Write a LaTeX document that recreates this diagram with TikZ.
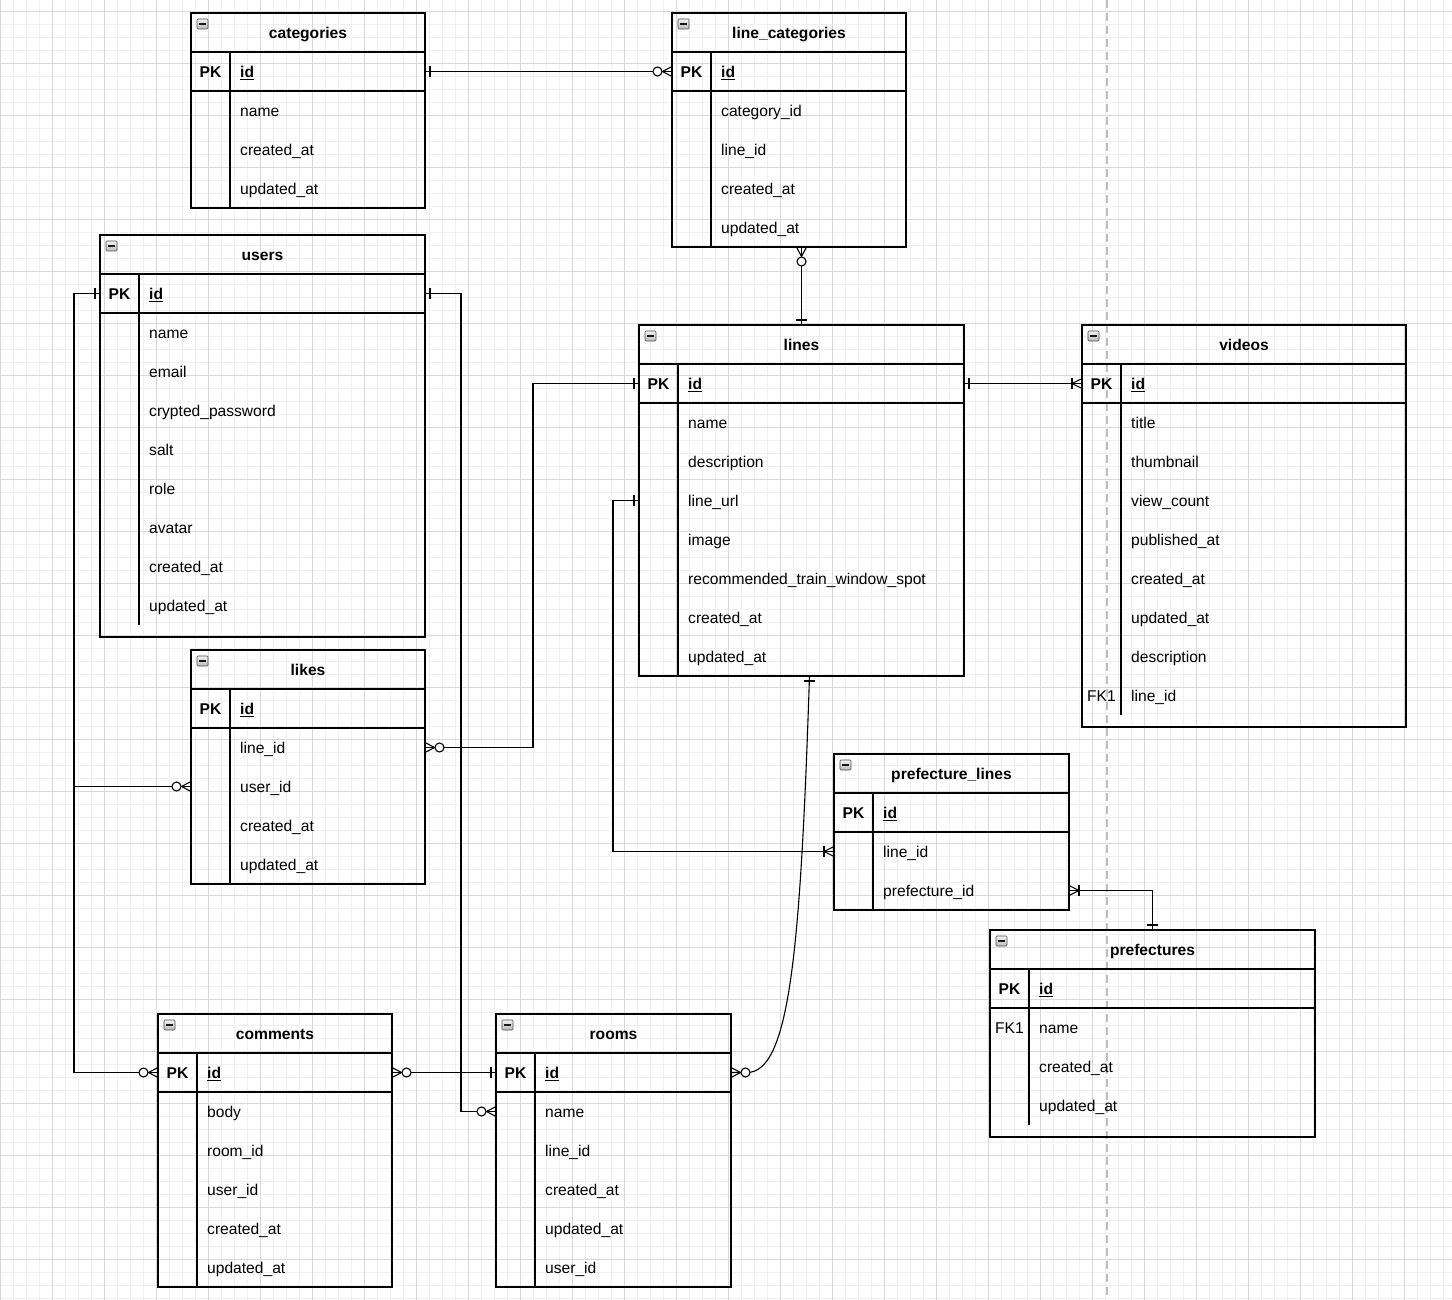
\documentclass[tikz,border=0pt]{standalone}
\usepackage{fontspec}
\setmainfont{Liberation Sans}
\usepackage{tikz}
\usetikzlibrary{calc}
\definecolor{gridMinor}{RGB}{240,240,240}
\definecolor{gridMajor}{RGB}{216,216,216}
\definecolor{pageBreak}{RGB}{190,190,190}

\tikzset{
  tbl/.style={draw=black, line width=1.1pt, inner sep=0pt, outer sep=0pt},
  rowbox/.style={inner sep=0pt, outer sep=0pt, minimum height=39pt},
  ttl/.style={font=\fontsize{15.6}{18}\selectfont\bfseries, inner sep=0pt, text height=13pt, text depth=1pt},
  fld/.style={font=\fontsize{15.6}{18}\selectfont, inner sep=0pt, text height=13pt, text depth=1pt},
  rel/.style={draw=black, line width=1.1pt},
  pics/oneMark/.style={code={\draw[rel] (5,-5.5) -- (5,5.5);}},
  pics/zeroMany/.style={code={
    \draw[rel] (0,-5) -- (9.5,0) -- (0,5);
    \draw[rel, fill=white] (14.5,0) circle[radius=4.5pt];}},
  pics/oneMany/.style={code={
    \draw[rel] (0,-5) -- (10,0) -- (0,5);
    \draw[rel] (10,-5.5) -- (10,5.5);}},
}

% #1 name, #2 left, #3 top, #4 width, #5 rows under PK, #6 extra space, #7 title, #8 key/field list
\newcommand{\ertable}[8]{%
  \pgfmathsetmacro\tblh{78+39*#5+#6}%
  \pgfmathsetmacro\divh{39+39*#5}%
  \node[tbl, anchor=north west, minimum width=#4pt, minimum height=\tblh pt] (#1) at (#2,#3) {};
  \draw[tbl] ($(#1.north west)+(0,39)$) -- ++(#4,0);
  \draw[tbl] ($(#1.north west)+(0,78)$) -- ++(#4,0);
  \draw[tbl] ($(#1.north west)+(39,39)$) -- ++(0,\divh);
  \shadedraw[top color=gray!10, bottom color=gray!55, draw=gray!60!black, line width=0.6pt, rounded corners=1pt]
    ($(#1.north west)+(6,6)$) rectangle ++(11,10);
  \draw[gray!20!black, line width=1.2pt] ($(#1.north west)+(8,11)$) -- ++(7,0);
  \node[ttl] at ($(#1.north)+(0,19.5)$) {#7};
  \foreach \k/\f [count=\i from 0] in {#8} {
    \node[rowbox, anchor=north west, minimum width=#4pt] (#1-\i) at ($(#1.north west)+(0,{39+39*\i})$) {};
    \node[fld] at ($(#1-\i.west)+(19.5,0)$) {\k};
    \node[fld, anchor=west] at ($(#1-\i.west)+(49,0)$) {\f};
  }%
}

\begin{document}
\begin{tikzpicture}[x=1pt, y=-1pt]
  \useasboundingbox (0,0) rectangle (1452,1300);
  \fill[white] (0,0) rectangle (1452,1300);
  % grid
  \foreach \gx in {0,13,...,1452} \draw[gridMinor, line width=0.8pt] (\gx,0) -- (\gx,1300);
  \foreach \gy in {-2,11,...,1300} \draw[gridMinor, line width=0.8pt] (0,\gy) -- (1452,\gy);
  \foreach \gx in {0,52,...,1452} \draw[gridMajor, line width=0.8pt] (\gx,0) -- (\gx,1300);
  \foreach \gy in {11,63,...,1300} \draw[gridMajor, line width=0.8pt] (0,\gy) -- (1452,\gy);
  % page break
  \draw[pageBreak, line width=1.3pt, dash pattern=on 8pt off 5pt] (1107,0) -- (1107,1300);

  % tables
  \ertable{categories}{191}{13}{234}{3}{0}{categories}
    {\textbf{PK}/\underline{\textbf{id}}, /name, /created\_at, /updated\_at}
  \ertable{lineCategories}{672}{13}{234}{4}{0}{line\_categories}
    {\textbf{PK}/\underline{\textbf{id}}, /category\_id, /line\_id, /created\_at, /updated\_at}
  \ertable{users}{100}{235}{325}{8}{12}{users}
    {\textbf{PK}/\underline{\textbf{id}}, /name, /email, /crypted\_password, /salt, /role, /avatar, /created\_at, /updated\_at}
  \ertable{likes}{191}{650}{234}{4}{0}{likes}
    {\textbf{PK}/\underline{\textbf{id}}, /line\_id, /user\_id, /created\_at, /updated\_at}
  \ertable{lines}{639}{325}{325}{7}{0}{lines}
    {\textbf{PK}/\underline{\textbf{id}}, /name, /description, /line\_url, /image, /recommended\_train\_window\_spot, /created\_at, /updated\_at}
  \ertable{videos}{1082}{325}{324}{8}{12}{videos}
    {\textbf{PK}/\underline{\textbf{id}}, /title, /thumbnail, /view\_count, /published\_at, /created\_at, /updated\_at, /description, FK1/line\_id}
  \ertable{prefectureLines}{834}{754}{235}{2}{0}{prefecture\_lines}
    {\textbf{PK}/\underline{\textbf{id}}, /line\_id, /prefecture\_id}
  \ertable{prefectures}{990}{930}{325}{3}{12}{prefectures}
    {\textbf{PK}/\underline{\textbf{id}}, FK1/name, /created\_at, /updated\_at}
  \ertable{comments}{158}{1014}{234}{5}{0}{comments}
    {\textbf{PK}/\underline{\textbf{id}}, /body, /room\_id, /user\_id, /created\_at, /updated\_at}
  \ertable{rooms}{496}{1014}{235}{5}{0}{rooms}
    {\textbf{PK}/\underline{\textbf{id}}, /name, /line\_id, /created\_at, /updated\_at, /user\_id}

  % relations
  \draw[rel] (categories-0.east) -- (lineCategories-0.west);
  \path (categories-0.east) pic {oneMark} (lineCategories-0.west) pic[rotate=180] {zeroMany};

  \coordinate (lcFoot) at (lines.north |- lineCategories.south);
  \draw[rel] (lcFoot) -- (lines.north);
  \path (lcFoot) pic[rotate=-90] {zeroMany} (lines.north) pic[rotate=90] {oneMark};

  \draw[rel] (lines-0.west) -- ++(-106,0) |- (likes-1.east);
  \path (lines-0.west) pic[rotate=180] {oneMark} (likes-1.east) pic {zeroMany};

  \draw[rel] (users-0.west) -- ++(-26,0) |- (comments-0.west);
  \draw[rel] (users-0.west) -- ++(-26,0) |- (likes-2.west);
  \path (users-0.west) pic[rotate=180] {oneMark}
        (comments-0.west) pic[rotate=180] {zeroMany}
        (likes-2.west) pic[rotate=180] {zeroMany};

  \draw[rel] (users-0.east) -- ++(36,0) |- (rooms-1.west);
  \path (users-0.east) pic {oneMark} (rooms-1.west) pic[rotate=180] {zeroMany};

  \draw[rel] (comments-0.east) -- (rooms-0.west);
  \path (comments-0.east) pic {zeroMany} (rooms-0.west) pic[rotate=180] {oneMark};

  \coordinate (lnFoot) at ($(lines.south)+(8,0)$);
  \draw[rel] (lnFoot) .. controls +(-9,273) and +(43,0) .. ($(rooms-0.east)+(16,0)$) -- (rooms-0.east);
  \path (lnFoot) pic[rotate=-90] {oneMark} (rooms-0.east) pic {zeroMany};

  \draw[rel] (lines-0.east) -- (videos-0.west);
  \path (lines-0.east) pic {oneMark} (videos-0.west) pic[rotate=180] {oneMany};

  \draw[rel] (lines-3.west) -- ++(-26,0) |- (prefectureLines-1.west);
  \path (lines-3.west) pic[rotate=180] {oneMark} (prefectureLines-1.west) pic[rotate=180] {oneMany};

  \draw[rel] (prefectureLines-2.east) -| (prefectures.north);
  \path (prefectureLines-2.east) pic {oneMany} (prefectures.north) pic[rotate=90] {oneMark};
\end{tikzpicture}
\end{document}
